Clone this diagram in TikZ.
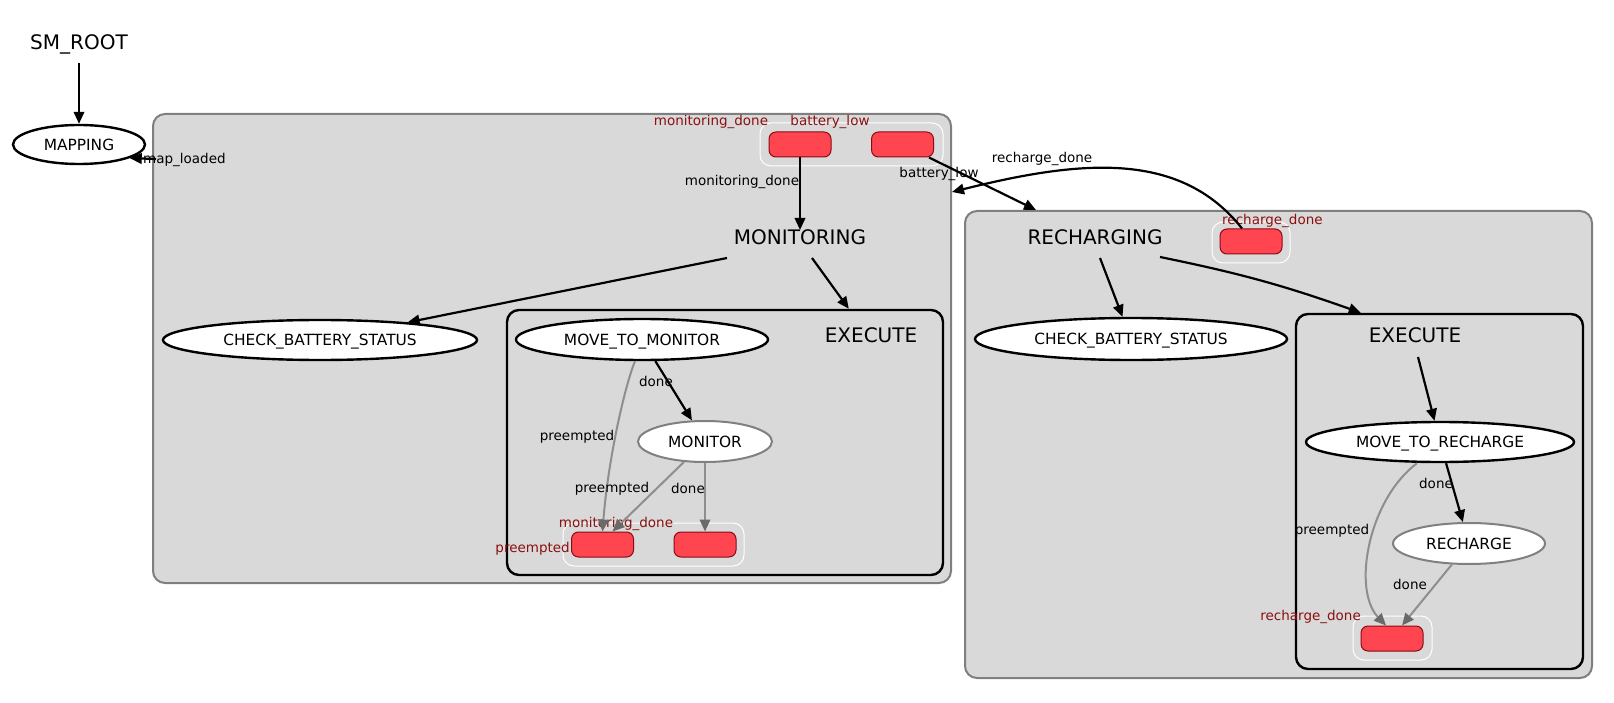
\documentclass[tikz,border=0pt]{standalone}
\usepackage{fontspec}
\setmainfont{DejaVu Sans}
\usetikzlibrary{arrows.meta,shapes.geometric}
\definecolor{clfill}{HTML}{D9D9D9}
\definecolor{clborder}{HTML}{7F7F7F}
\definecolor{outred}{HTML}{FF4650}
\definecolor{outborder}{HTML}{8B0A14}
\definecolor{outtext}{HTML}{8B1010}
\definecolor{edgegray}{HTML}{8E8E8E}
\definecolor{arrowgray}{HTML}{6A6A6A}
\definecolor{stgray}{HTML}{808080}
\tikzset{
  st/.style={ellipse, draw, line width=2.4pt, fill=white, inner sep=0pt,
    text height=11.2pt, text depth=0pt, font=\fontsize{15.4pt}{18pt}\selectfont},
  stg/.style={st, draw=stgray, line width=2pt},
  clus/.style={rectangle, rounded corners=12pt, draw=clborder, line width=2pt, fill=clfill, inner sep=0pt},
  exclus/.style={clus, draw=black, line width=2.4pt},
  outbox/.style={rectangle, rounded corners=11pt, draw=white, line width=1pt, inner sep=0pt},
  outc/.style={rectangle, rounded corners=7pt, draw=outborder, fill=outred, line width=1pt,
    minimum width=62pt, minimum height=25pt, inner sep=0pt},
  lab/.style={font=\fontsize{13.5pt}{15pt}\selectfont, inner sep=0pt, anchor=base},
  olab/.style={lab, text=outtext},
  big/.style={font=\fontsize{20pt}{24pt}\selectfont, inner sep=0pt, anchor=base},
  edge/.style={draw, line width=2.2pt, -{Triangle[length=12pt,width=10.5pt]}},
  gedge/.style={draw=edgegray, line width=2pt, -{Triangle[length=12pt,width=10.5pt,color=arrowgray]}},
}
\begin{document}
\begin{tikzpicture}[x=1pt,y=-1pt]
\useasboundingbox (0,0) rectangle (1614,703);

% clusters
\node[clus, minimum width=798pt, minimum height=469pt] (moncl) at (552,348.5) {};
\node[clus, minimum width=627pt, minimum height=467pt] (rclus) at (1278.5,444.5) {};
\node[exclus, minimum width=436pt, minimum height=265pt] (exec1) at (725,442.5) {};
\node[exclus, minimum width=287pt, minimum height=355pt] (exec2) at (1439.5,491.5) {};

% outcome groups
\node[outbox, minimum width=183pt, minimum height=43pt] (mobox) at (851.5,144.5) {};
\node[outc] (mo1) at (800,144.5) {};
\node[outc] (mo2) at (902.5,144.5) {};
\node[outbox, minimum width=78pt, minimum height=41pt] (robox) at (1251,242.5) {};
\node[outc] (ro1) at (1251,241.5) {};
\node[outbox, minimum width=181pt, minimum height=43pt] (e1box) at (653.5,544.5) {};
\node[outc] (mopre) at (602.5,544.5) {};
\node[outc] (modone) at (705,544.5) {};
\node[outbox, minimum width=79pt, minimum height=44pt] (e2box) at (1392.5,638) {};
\node[outc] (ro2) at (1392,638.5) {};

% titles
\node[big] (smroot) at (79,50) {SM\_ROOT};
\node[big] (monlabel) at (800,245) {MONITORING};
\node[big] (rechlabel) at (1095,245) {RECHARGING};
\node[big] (ex1label) at (871,342) {EXECUTE};
\node[big] (ex2label) at (1415,342) {EXECUTE};

% states
\node[st, minimum width=132pt, minimum height=39pt] (mapping) at (79,144.5) {MAPPING};
\node[st, minimum width=314pt, minimum height=40pt] (cbs1) at (320,340) {CHECK\_BATTERY\_STATUS};
\node[st, minimum width=252pt, minimum height=41pt] (mtm) at (642,339.5) {MOVE\_TO\_MONITOR};
\node[stg, minimum width=134pt, minimum height=41pt] (monitor) at (705,441.5) {MONITOR};
\node[st, minimum width=312pt, minimum height=42pt] (cbs2) at (1131,339) {CHECK\_BATTERY\_STATUS};
\node[st, minimum width=268pt, minimum height=40pt] (mtr) at (1440,442) {MOVE\_TO\_RECHARGE};
\node[stg, minimum width=152pt, minimum height=41pt] (recharge) at (1469,543.5) {RECHARGE};

% outcome labels
\node[olab] (l_md1) at (711,126) {monitoring\_done};
\node[olab] (l_bl1) at (830,126) {battery\_low};
\node[olab, anchor=base west] (l_rd1) at (1222,224.5) {recharge\_done};
\node[olab] (l_md2) at (616,527) {monitoring\_done};
\node[olab, anchor=base east] (l_pre1) at (570,552) {preempted};
\node[olab, anchor=base east] (l_rd2) at (1361,620) {recharge\_done};

% edges
\draw[edge, shorten <=8pt] (smroot) -- (mapping);
\coordinate (mlsrc) at (156,159);
\draw[edge] (mlsrc) -- (mapping.-15);
\node[lab, anchor=base west] (l_ml) at (143,164) {map\_loaded};

\draw[edge] (mo1) -- (monlabel);
\node[lab] (l_md3) at (742,186) {monitoring\_done};

\draw[edge] (mo2) -- ([xshift=72pt]rclus.north west);
\node[lab] (l_bl2) at (939,177.5) {battery\_low};

\draw[edge] ([xshift=-9pt]ro1.north) .. controls (1180,150) and (1080,160) .. ([yshift=-79pt]moncl.north east);
\node[lab] (l_rd3) at (1042,163) {recharge\_done};

\draw[edge] ([shift={(-73pt,-13pt)}]monlabel.base) -- (cbs1);
\draw[edge] ([shift={(12pt,-13pt)}]monlabel.base) -- ([xshift=343pt]exec1.north west);

\draw[edge] (mtm) -- (monitor);
\node[lab] (l_d1) at (656,386) {done};
\draw[gedge] ([xshift=-7pt]mtm.south) .. controls (625,385) and (608,460) .. (mopre.north);
\node[lab] (l_p1) at (577,440) {preempted};
\draw[gedge] (monitor) -- ([xshift=10pt]mopre.north);
\node[lab] (l_p2) at (612,492) {preempted};
\draw[gedge] (monitor) -- (modone);
\node[lab] (l_d2) at (688,493) {done};

\draw[edge] ([shift={(5pt,-13pt)}]rechlabel.base) -- (cbs2);
\draw[edge] ([shift={(65pt,-12pt)}]rechlabel.base) to[bend left=4] ([xshift=66pt]exec2.north west);

\draw[edge] ([shift={(3pt,-15pt)}]ex2label.base) -- (mtr);
\draw[edge] (mtr) -- (recharge);
\node[lab] (l_d3) at (1436,488) {done};
\draw[gedge] ([xshift=-23pt]mtr.south) .. controls (1368,500) and (1352,590) .. ([xshift=-6pt]ro2.north);
\node[lab] (l_p3) at (1332,534) {preempted};
\draw[gedge] (recharge) -- ([xshift=10pt]ro2.north);
\node[lab] (l_d4) at (1410,589) {done};
\end{tikzpicture}
\end{document}
